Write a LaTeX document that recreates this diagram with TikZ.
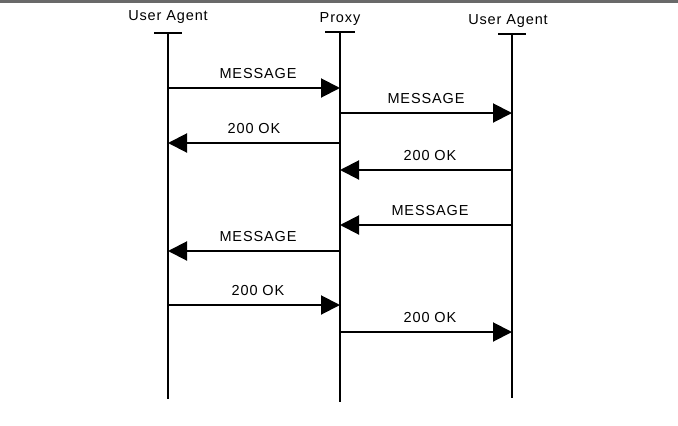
\documentclass[tikz,border=0pt]{standalone}
\usepackage{fontspec}
\setmainfont{Liberation Sans}[LetterSpace=6]
\usepackage{tikz}
\usetikzlibrary{arrows.meta,positioning,calc}
\definecolor{framegray}{RGB}{105,105,105}

\tikzset{
  life/.style={line width=2pt},
  msg/.style={line width=2pt,-{Triangle[length=19pt,width=19pt]}},
  msglabel/.style={above=8.5pt,xshift=4pt,inner sep=0pt}
}

\begin{document}
\begin{tikzpicture}[x=1pt,y=-1pt,font=\fontsize{14.5}{16}\selectfont]
			\useasboundingbox (0,0) rectangle (678,426);
			\fill[framegray] (0,0) rectangle (678,2.5);
			
			% lifelines
			\node (uaA) at (168,17) {User Agent};
			\coordinate (uaAtop) at (168,33);
			\coordinate (uaAend) at (168,399);
			\draw[life] (uaAtop) -- (uaAend);
			\draw[life] ([xshift=-14pt]uaAtop) -- ([xshift=14pt]uaAtop);
			
			\node (proxy) at (340,19) {Proxy};
			\coordinate (proxytop) at (340,32);
			\coordinate (proxyend) at (340,402);
			\draw[life] (proxytop) -- (proxyend);
			\draw[life] ([xshift=-15pt]proxytop) -- ([xshift=15pt]proxytop);
			
			\node (uaB) at (508,21) {User Agent};
			\coordinate (uaBtop) at (512,34);
			\coordinate (uaBend) at (512,398);
			\draw[life] (uaBtop) -- (uaBend);
			\draw[life] ([xshift=-14pt]uaBtop) -- ([xshift=14pt]uaBtop);
			
			% messages
			\draw[msg] (uaAtop |- 0,88) -- node[msglabel] {MESSAGE} (proxytop |- 0,88);
			\draw[msg] (proxytop |- 0,113) -- node[msglabel,xshift=-4pt] {MESSAGE} (uaBtop |- 0,113);
			\draw[msg] (proxytop |- 0,143) -- node[msglabel,xshift=-4pt] {200 OK} (uaAtop |- 0,143);
			\draw[msg] (uaBtop |- 0,170) -- node[msglabel] {200 OK} (proxytop |- 0,170);
			\draw[msg] (uaBtop |- 0,225) -- node[msglabel] {MESSAGE} (proxytop |- 0,225);
			\draw[msg] (proxytop |- 0,251) -- node[msglabel] {MESSAGE} (uaAtop |- 0,251);
			\draw[msg] (uaAtop |- 0,305) -- node[msglabel] {200 OK} (proxytop |- 0,305);
			\draw[msg] (proxytop |- 0,332) -- node[msglabel] {200 OK} (uaBtop |- 0,332);
		\end{tikzpicture}
\end{document}
